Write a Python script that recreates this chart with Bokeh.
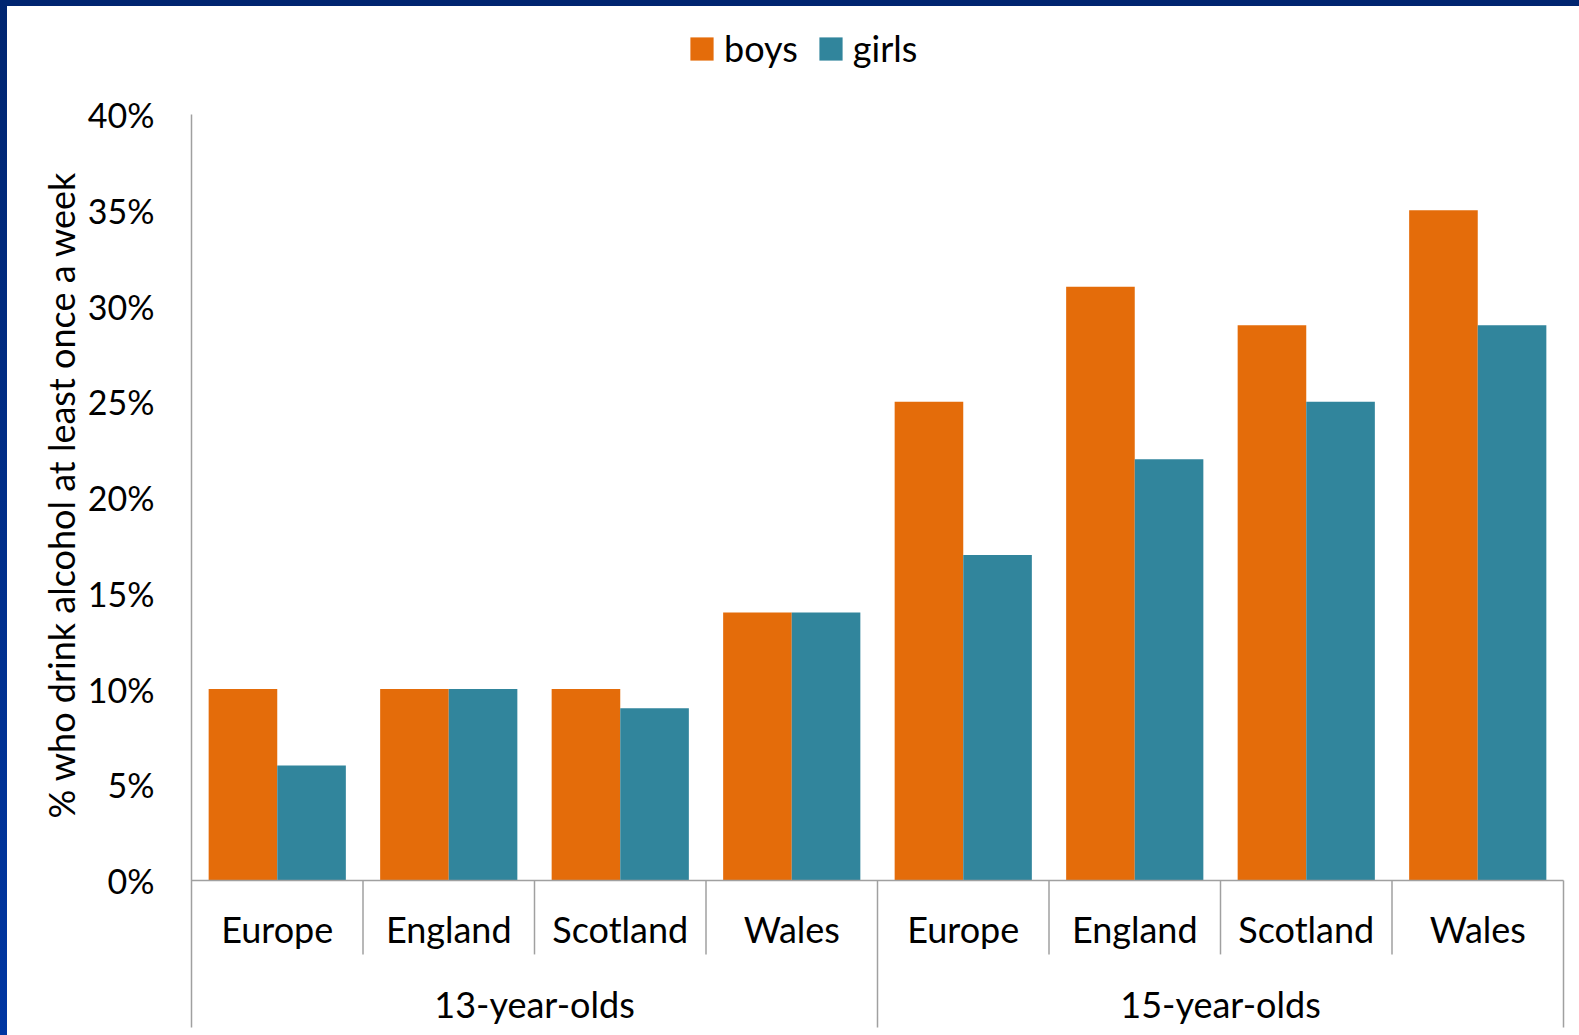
from bokeh.plotting import figure
from bokeh.models import Range1d, FixedTicker, Legend, LegendItem, ColumnDataSource, Title
from bokeh.embed import file_html
from bokeh.resources import INLINE
from bokeh.core.properties import value

# ---- data ----
age_groups = ["13-year-olds", "15-year-olds"]
countries = ["Europe", "England", "Scotland", "Wales"]
boys_13 = [10, 10, 10, 14]
girls_13 = [6, 10, 9, 14]
boys_15 = [25, 31, 29, 35]
girls_15 = [17, 22, 25, 29]
y_ticks = [0, 5, 10, 15, 20, 25, 30, 35, 40]
y_tick_labels = ["0%", "5%", "10%", "15%", "20%", "25%", "30%", "35%", "40%"]
y_title = "% who drink alcohol at least once a week"
series_names = ["boys", "girls"]
series_colors = ["#E46C0A", "#31859C"]

FONT = "Lato"
FS = "36px"
FS_TICK = "34px"
GRAY = "#A0A0A0"

boys = boys_13 + boys_15
girls = girls_13 + girls_15
n = len(boys)
idx = list(range(n))

y0 = -7.676
y1 = 45.64
pad = 3 / 171.5
p = figure(width=1572, height=1029, output_backend="svg", toolbar_location=None,
           x_range=Range1d(-pad, n + pad), y_range=Range1d(y0, y1),
           x_axis_location=None, min_border_left=181, min_border_right=13,
           min_border_top=0, min_border_bottom=8, outline_line_color=None)
p.grid.visible = False
p.background_fill_color = "white"
p.border_fill_color = "white"
p.styles = {"background-color": "white"}

src_b = ColumnDataSource(dict(x=[i + 0.3 for i in idx], top=boys))
src_g = ColumnDataSource(dict(x=[i + 0.7 for i in idx], top=girls))
rb = p.vbar(x="x", top="top", width=0.4, bottom=0, source=src_b,
            fill_color=series_colors[0], line_color=None)
rg = p.vbar(x="x", top="top", width=0.4, bottom=0, source=src_g,
            fill_color=series_colors[1], line_color=None)

# baseline
p.segment(x0=[0], y0=[0], x1=[n], y1=[0], line_color=GRAY, line_width=1.5)
# value axis line (continues down through the label area)
p.segment(x0=[0], y0=[y_ticks[-1]], x1=[0], y1=[y0 - 1], line_color=GRAY, line_width=1.5)
# category separators
sep_c = [i for i in range(1, n) if i % len(countries) != 0]
p.segment(x0=sep_c, y0=[0] * len(sep_c), x1=sep_c, y1=[-3.86] * len(sep_c),
          line_color=GRAY, line_width=1.5)
sep_g = [len(countries) * k for k in range(1, len(age_groups) + 1)]
p.segment(x0=sep_g, y0=[0] * len(sep_g), x1=sep_g, y1=[y0 - 1] * len(sep_g),
          line_color=GRAY, line_width=1.5)

# category labels
p.text(x=[i + 0.5 for i in idx], y=[-2.55] * n, text=countries * len(age_groups),
       text_align="center", text_baseline="middle", text_font=value(FONT),
       text_font_size=FS, text_color="black")
p.text(x=[len(countries) * (k + 0.5) for k in range(len(age_groups))],
       y=[-6.45] * len(age_groups), text=age_groups,
       text_align="center", text_baseline="middle", text_font=value(FONT),
       text_font_size=FS, text_color="black")

ax = p.yaxis[0]
ax.ticker = FixedTicker(ticks=y_ticks)
ax.bounds = (y_ticks[0], y_ticks[-1])
ax.major_label_overrides = {t: l for t, l in zip(y_ticks, y_tick_labels)}
ax.major_tick_line_color = None
ax.minor_tick_line_color = None
ax.major_tick_out = 0
ax.major_label_standoff = 34
ax.axis_line_color = None
ax.major_label_text_font = FONT
ax.major_label_text_font_size = FS_TICK
ax.major_label_text_color = "black"

title = Title(text=y_title, align="left", offset=209, standoff=3,
              text_font=FONT, text_font_size=FS, text_font_style="normal",
              text_color="black")
p.add_layout(title, "left")

legend = Legend(items=[LegendItem(label=series_names[0], renderers=[rb]),
                       LegendItem(label=series_names[1], renderers=[rg])],
                orientation="horizontal", location=(499, 957),
                glyph_width=29, glyph_height=29, label_standoff=8, spacing=18,
                padding=0, margin=0, border_line_alpha=0, background_fill_alpha=0,
                label_text_font=FONT, label_text_font_size=FS, label_text_color="black")
p.add_layout(legend, "center")

html = file_html(p, INLINE)
style = ("<style>html,body{margin:0;padding:0;}"
         "body{padding:6px 0 0 7px;box-sizing:border-box;height:1035px;overflow:hidden;"
         "background:linear-gradient(to bottom,#002570,#0036A2);}</style>")
html = html.replace("</head>", style + "</head>", 1)
open("out.html", "w").write(html)
